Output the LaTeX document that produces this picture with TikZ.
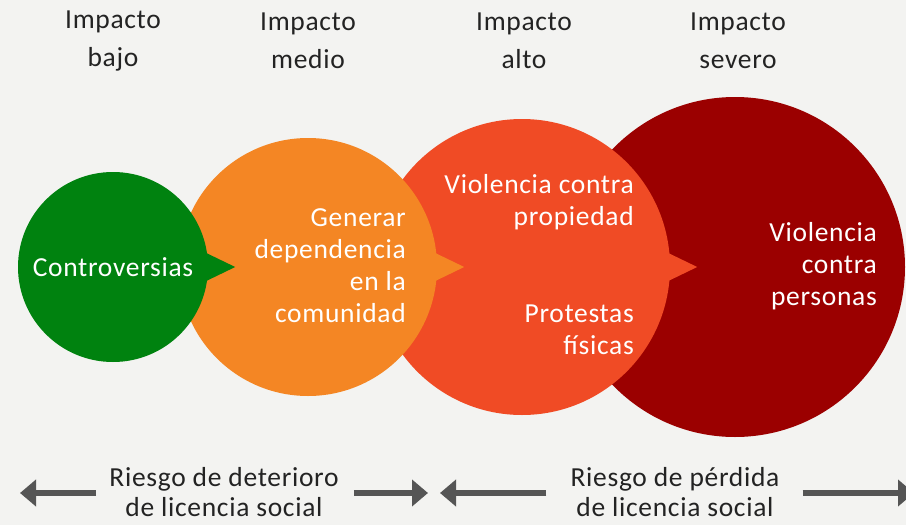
\documentclass[tikz,border=0pt]{standalone}
\usepackage{fontspec}
\setmainfont{Carlito}[LetterSpace=2.5]
\usetikzlibrary{arrows.meta, calc, positioning}
\definecolor{fondo}{RGB}{243,243,241}
\definecolor{tinta}{RGB}{35,35,35}
\definecolor{flecha}{RGB}{85,85,85}
\definecolor{verde}{RGB}{0,130,15}
\definecolor{naranja}{RGB}{244,134,36}
\definecolor{naranjarojo}{RGB}{240,75,37}
\definecolor{rojo}{RGB}{155,0,0}

\begin{document}
\begin{tikzpicture}[
    x=1pt, y=1pt,
    every node/.style={font=\fontsize{27.5}{32}\selectfont},
    burbuja/.style={circle, inner sep=0pt},
    texto/.style  ={text=white, align=right, anchor=east, inner sep=0pt},
    encab/.style  ={text=tinta, align=center, font=\fontsize{27.5}{38}\selectfont},
    pie/.style    ={text=tinta, align=center, inner sep=0pt, font=\fontsize{27.5}{30}\selectfont},
    riesgo/.style ={-{Triangle[length=16pt, width=26pt]}, line width=6pt, draw=flecha},
]
\fill[fondo] (0,0) rectangle (906,-525);
\useasboundingbox (0,0) rectangle (906,-525);

% the bubbles, largest first so each smaller one sits on top
\node[burbuja, fill=rojo,        minimum size=340pt] (severo) at (735,-267) {};
\node[burbuja, fill=naranjarojo, minimum size=296pt] (alto)   at (522,-267) {};
\node[burbuja, fill=naranja,     minimum size=258pt] (medio)  at (308,-267) {};
\node[burbuja, fill=verde,       minimum size=190pt] (bajo)   at (113,-267) {};
\foreach \c/\col in {bajo/verde, medio/naranja, alto/naranjarojo}
  \fill[\col] ($(\c.east)+(-4,15)$) -- ($(\c.east)+(27,0)$) -- ($(\c.east)+(-4,-15)$) -- cycle;

\node[text=white] (tbajo) at (bajo) {Controversias};
\node[texto] (tmedio) at (406,-266) {Generar\\dependencia\\en la\\comunidad};
\node[texto] (talto1) at (634,-202) {Violencia contra\\propiedad};
\node[texto] (talto2) at (634,-330) {Protestas\\físicas};
\node[texto] (tsevero) at (877,-266) {Violencia\\contra\\personas};

\node[encab] (hbajo)   at (113,-41) {Impacto\\bajo};
\node[encab] (hmedio)  at (308,-41) {Impacto\\medio};
\node[encab] (halto)   at (524,-41) {Impacto\\alto};
\node[encab] (hsevero) at (738,-41) {Impacto\\severo};

\node[pie] (rdet) at (224,-492) {Riesgo de deterioro\\de licencia social};
\node[pie] (rper) at (675,-492) {Riesgo de pérdida\\de licencia social};
\coordinate (izq1) at (20,-493);
\coordinate (der1) at (428,-493);
\coordinate (izq2) at (440,-493);
\coordinate (der2) at (914,-493);
\draw[riesgo] ([xshift=-13pt]rdet.west |- izq1) -- (izq1);
\draw[riesgo] ([xshift=15pt]rdet.east |- der1) -- (der1);
\draw[riesgo] ([xshift=-24pt]rper.west |- izq2) -- (izq2);
\draw[riesgo] ([xshift=23pt]rper.east |- der2) -- (der2);
\end{tikzpicture}
\end{document}
